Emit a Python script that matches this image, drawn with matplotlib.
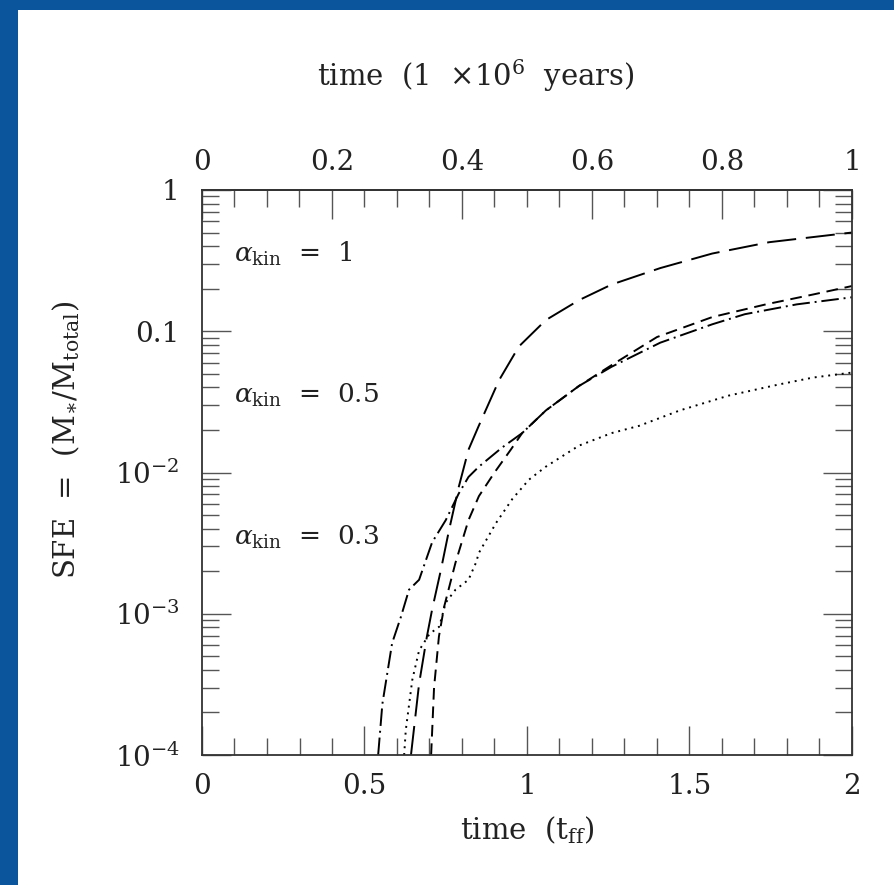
import matplotlib
matplotlib.use("Agg")
import matplotlib.pyplot as plt
import matplotlib.patches as patches
from matplotlib.ticker import FixedLocator, FixedFormatter, MultipleLocator, LogLocator, NullFormatter

plt.rcParams['font.family'] = 'DejaVu Serif'
plt.rcParams['mathtext.fontset'] = 'dejavuserif'

# curves: time in t_ff, SFE
t_long = [0.643, 0.668, 0.692, 0.708, 0.735, 0.76, 0.79, 0.82, 0.85, 0.914, 0.975,
          1.058, 1.16, 1.26, 1.41, 1.57, 1.745, 2.0]
sfe_long = [1.0e-4, 3.2e-4, 6.9e-4, 1.07e-3, 2.04e-3, 3.9e-3, 7.9e-3, 1.45e-2, 2.1e-2,
            4.5e-2, 7.8e-2, 0.12, 0.166, 0.214, 0.28, 0.355, 0.427, 0.50]

t_dash = [0.705, 0.714, 0.729, 0.745, 0.78, 0.82, 0.852, 0.9, 0.95, 0.985, 1.058,
          1.16, 1.26, 1.40, 1.57, 1.735, 1.88, 2.0]
sfe_dash = [1.0e-4, 3.0e-4, 6.9e-4, 1.12e-3, 2.3e-3, 4.6e-3, 6.8e-3, 1.0e-2, 1.45e-2,
            1.9e-2, 2.75e-2, 4.1e-2, 5.75e-2, 9.1e-2, 0.126, 0.155, 0.182, 0.209]

t_dashdot = [0.542, 0.555, 0.585, 0.612, 0.637, 0.668, 0.708, 0.75, 0.79, 0.82, 0.852,
             0.923, 0.985, 1.058, 1.16, 1.26, 1.41, 1.57, 1.67, 1.83, 2.0]
sfe_dashdot = [1.0e-4, 2.3e-4, 6.2e-4, 9.5e-4, 1.48e-3, 1.74e-3, 3.2e-3, 4.6e-3, 7.1e-3,
               9.3e-3, 1.1e-2, 1.5e-2, 1.9e-2, 2.75e-2, 4.1e-2, 5.6e-2, 8.3e-2, 0.112,
               0.132, 0.155, 0.174]

t_dot = [0.622, 0.627, 0.647, 0.668, 0.70, 0.73, 0.75, 0.78, 0.82, 0.843, 0.852, 0.905,
         0.955, 1.006, 1.058, 1.16, 1.26, 1.345, 1.47, 1.62, 1.775, 1.88, 2.0]
sfe_dot = [1.0e-4, 1.5e-4, 3.4e-4, 5.5e-4, 7.2e-4, 8.1e-4, 1.2e-3, 1.48e-3, 1.74e-3,
           2.3e-3, 2.7e-3, 4.4e-3, 6.5e-3, 8.9e-3, 1.1e-2, 1.55e-2, 1.9e-2, 2.14e-2,
           2.75e-2, 3.5e-2, 4.2e-2, 4.7e-2, 5.1e-2]

alpha_labels = ['1', '0.5', '0.3']
alpha_label_y = [0.31, 0.031, 0.0031]

x_ticks = [0, 0.5, 1, 1.5, 2]
x_ticklabels = ['0', '0.5', '1', '1.5', '2']
top_ticks = [0, 0.2, 0.4, 0.6, 0.8, 1]
top_ticklabels = ['0', '0.2', '0.4', '0.6', '0.8', '1']
y_ticks = [1e-4, 1e-3, 1e-2, 0.1, 1]
y_ticklabels = [r'$10^{-4}$', r'$10^{-3}$', r'$10^{-2}$', '0.1', '1']

fig = plt.figure(figsize=(8.95, 8.85), dpi=100)
fig.patch.set_facecolor('#0b559c')
# white slide panel
fig.patches.append(patches.Rectangle((18/895, 0), 1, 1 - 10/885, transform=fig.transFigure,
                                     facecolor='white', edgecolor='none', zorder=-10))

ax = fig.add_axes([202/895, 1 - 755/885, 650/895, 565/885])
ax.patch.set_alpha(0)

lw = 1.4
ax.plot(t_long, sfe_long, color='black', lw=lw, dashes=(15, 5))
ax.plot(t_dash, sfe_dash, color='black', lw=lw, dashes=(6, 3.5))
ax.plot(t_dashdot, sfe_dashdot, color='black', lw=lw, dashes=(9, 2.5, 1, 2.5))
ax.plot(t_dot, sfe_dot, color='black', lw=lw, dashes=(1, 2.5))

ax.set_yscale('log')
ax.set_xlim(0, 2)
ax.set_ylim(1e-4, 1)

for lab, yv in zip(alpha_labels, alpha_label_y):
    ax.text(0.098, yv, r'$\alpha_{\rm kin}$  =  ' + lab, fontsize=19, ha='left',
            va='baseline', color='#222222')

ax.xaxis.set_major_locator(FixedLocator(x_ticks))
ax.xaxis.set_major_formatter(FixedFormatter(x_ticklabels))
ax.xaxis.set_minor_locator(MultipleLocator(0.1))
ax.yaxis.set_major_locator(FixedLocator(y_ticks))
ax.yaxis.set_major_formatter(FixedFormatter(y_ticklabels))
ax.yaxis.set_minor_locator(LogLocator(base=10, subs=range(2, 10), numticks=20))
ax.yaxis.set_minor_formatter(NullFormatter())

ax.tick_params(which='both', direction='in', color='#555555', width=1.0,
               labelsize=20, labelcolor='#222222', top=False, right=True)
ax.tick_params(which='major', length=21)
ax.tick_params(which='minor', length=12)
ax.tick_params(axis='x', which='major', pad=13)
ax.tick_params(axis='y', which='major', pad=16)
for s in ax.spines.values():
    s.set_linewidth(1.3)
    s.set_color('#333333')

top = ax.secondary_xaxis('top', functions=(lambda t: t / 2, lambda y: y * 2))
top.set_xticks(top_ticks)
top.set_xticklabels(top_ticklabels)
top.xaxis.set_minor_locator(MultipleLocator(0.05))
top.tick_params(which='both', direction='in', color='#555555', width=1.0,
                labelsize=20, labelcolor='#222222')
top.tick_params(which='major', length=21, pad=10)
top.tick_params(which='minor', length=12)
top.spines['top'].set_linewidth(1.3)
top.spines['top'].set_color('#333333')

fig.text(476/895, 1 - 76/885, r'time  (1  $\times$10$^6$  years)', fontsize=21,
         ha='center', va='center', color='#222222')
ax.set_xlabel(r'time  (t$_{\rm ff}$)', fontsize=21, labelpad=10, color='#222222')
fig.text(66/895, 1 - 440/885, r'SFE  =  (M$_{\ast}$/M$_{\rm total}$)', fontsize=21,
         rotation=90, ha='center', va='center', color='#222222')

fig.savefig('out.png', dpi=100, facecolor=fig.get_facecolor())
